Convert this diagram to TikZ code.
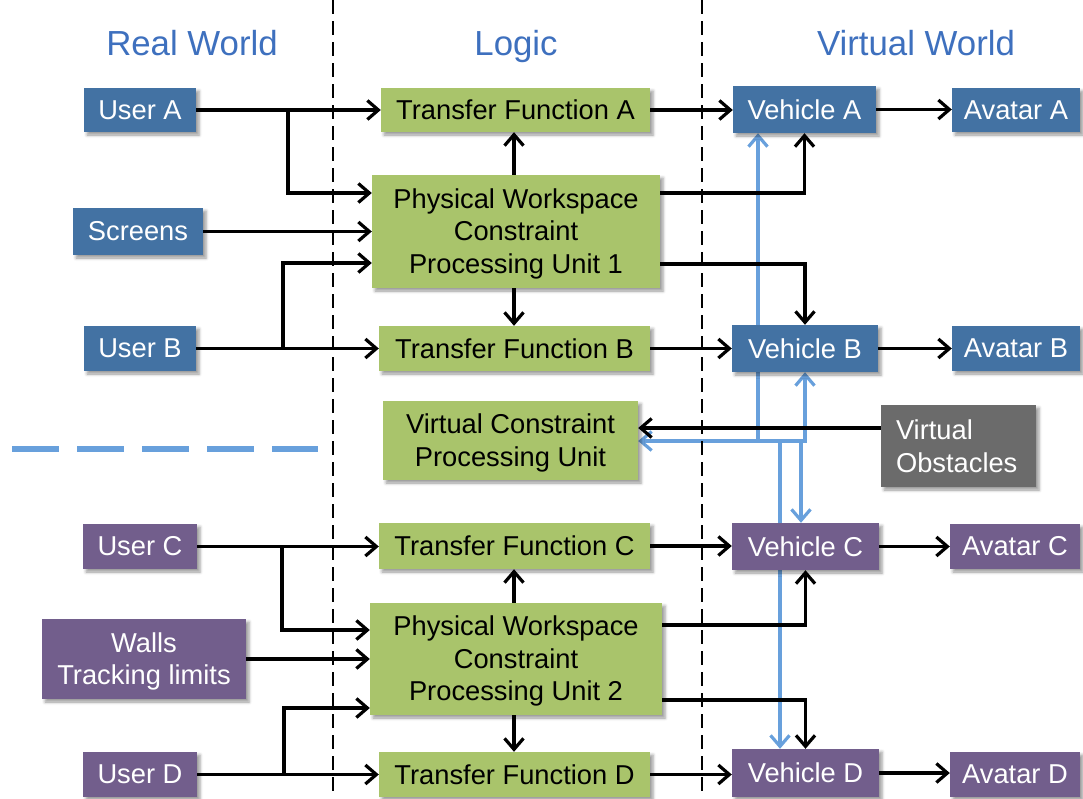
\documentclass[tikz,border=0pt]{standalone}
\usepackage{fontspec}
\setmainfont{Liberation Sans}
\usetikzlibrary{arrows.meta,shadows.blur,calc}
\definecolor{bluebox}{RGB}{67,114,163}
\definecolor{purplebox}{RGB}{114,94,140}
\definecolor{greenbox}{RGB}{169,196,107}
\definecolor{graybox}{RGB}{107,107,107}
\definecolor{hdrblue}{RGB}{62,112,190}
\definecolor{linkblue}{RGB}{104,160,220}
\newcommand\lstrut{\rule[-0.212em]{0pt}{1.117em}}
\pgfdeclarelayer{bg}
\pgfsetlayers{bg,main}
\begin{document}
\begin{tikzpicture}[x=1pt,y=-1pt,
  box/.style={draw=none, inner sep=0pt, align=center,
    font=\fontsize{27.3}{32.5}\selectfont,
    blur shadow={shadow xshift=3pt, shadow yshift=-3pt, shadow blur radius=3pt, shadow opacity=40}},
  rwb/.style={box, fill=bluebox, text=white},
  rwp/.style={box, fill=purplebox, text=white},
  lg/.style={box, fill=greenbox, text=black},
  gr/.style={box, fill=graybox, text=white},
  hdr/.style={anchor=base, text=hdrblue, font=\fontsize{34.8}{40}\selectfont},
  ar/.style={line width=3.2pt, -{Straight Barb[length=11pt,width=19pt]}},
  bl/.style={line width=3.2pt, draw=linkblue, -{Straight Barb[length=11pt,width=19pt]}},
  sep/.style={line width=2pt, dash pattern=on 14pt off 7pt},
]
\useasboundingbox (0,0) rectangle (1083,798);

% headers
\node[hdr] (hR) at (192,55) {Real World};
\node[hdr] (hL) at (516,55) {Logic};
\node[hdr] (hV) at (916,55) {Virtual World};

% separators
\coordinate (s1t) at (333,0); \coordinate (s1b) at (333,798);
\coordinate (s2t) at (702,0); \coordinate (s2b) at (702,798);
\draw[sep] (s1t) -- (s1b);
\draw[sep] (s2t) -- (s2b);
\coordinate (d1) at (12,449); \coordinate (d2) at (318,449);
\draw[line width=6pt, draw=linkblue, dash pattern=on 47pt off 18pt] (d1) -- (d2);

% real world
\node[rwb, minimum width=112, minimum height=44] (uA) at (140,110) {User A};
\node[rwb, minimum width=130, minimum height=47] (scr) at (138,231.5) {Screens};
\node[rwb, minimum width=112, minimum height=45] (uB) at (140,348.5) {User B};
\node[rwp, minimum width=114, minimum height=45] (uC) at (140,546.5) {User C};
\node[rwp, minimum width=204, minimum height=80] (walls) at (144,659) {\lstrut Walls\\\lstrut Tracking limits};
\node[rwp, minimum width=114, minimum height=45] (uD) at (140,774.5) {User D};

% logic
\node[lg, minimum width=269, minimum height=44] (tfA) at (515.5,110) {Transfer Function A};
\node[lg, minimum width=288, minimum height=113] (pw1) at (516,231.5) {\lstrut Physical Workspace\\\lstrut Constraint\\\lstrut Processing Unit 1};
\node[lg, minimum width=271, minimum height=45] (tfB) at (514.5,348.5) {Transfer Function B};
\node[lg, minimum width=255, minimum height=79] (vcpu) at (510.5,440.5) {\lstrut Virtual Constraint\\\lstrut Processing Unit};
\node[lg, minimum width=271, minimum height=46] (tfC) at (514.5,546) {Transfer Function C};
\node[lg, minimum width=292, minimum height=112] (pw2) at (516,659) {\lstrut Physical Workspace\\\lstrut Constraint\\\lstrut Processing Unit 2};
\node[lg, minimum width=271, minimum height=45] (tfD) at (514.5,774.5) {Transfer Function D};

% virtual world
\node[rwb, minimum width=143, minimum height=47] (vA) at (804.5,109.5) {Vehicle A};
\node[rwb, minimum width=128, minimum height=44] (aA) at (1016,110) {Avatar A};
\node[rwb, minimum width=146, minimum height=47] (vB) at (805,348.5) {Vehicle B};
\node[rwb, minimum width=128, minimum height=45] (aB) at (1016,348.5) {Avatar B};
\node[gr, align=left, text width=125pt, inner xsep=15pt, minimum height=82] (vo) at (958.5,446) {Virtual\\Obstacles};
\node[rwp, minimum width=147, minimum height=47] (vC) at (805.5,546.5) {Vehicle C};
\node[rwp, minimum width=130, minimum height=45] (aC) at (1015,546.5) {Avatar C};
\node[rwp, minimum width=147, minimum height=48] (vD) at (805.5,773) {Vehicle D};
\node[rwp, minimum width=130, minimum height=45] (aD) at (1015,774.5) {Avatar D};

% branch x positions
\coordinate (xa) at (288,0);
\coordinate (xb) at (283,0);
\coordinate (xc) at (282,0);
\coordinate (xd) at (284,0);
\coordinate (xm) at (514,0);

% group 1
\draw[ar] (uA.east) -- (uA.east -| tfA.west);
\draw[ar] (uA.east -| xa) |- ($(pw1.west)+(0,-38.5)$);
\draw[ar] (scr.east) -- (scr.east -| pw1.west);
\draw[ar] (uB.east) -- (uB.east -| tfB.west);
\draw[ar] (uB.east -| xb) |- ($(pw1.west)+(0,31.5)$);
\draw[ar] (pw1.north -| xm) -- (tfA.south -| xm);
\draw[ar] (pw1.south -| xm) -- (tfB.north -| xm);
\draw[ar] (tfA.east) -- (tfA.east -| vA.west);
\draw[ar] ($(pw1.east)+(0,-38.5)$) -| (vA.south);
\draw[ar] ($(pw1.east)+(0,32.5)$) -| (vB.north);
\draw[ar] (tfB.east) -- (tfB.east -| vB.west);
\draw[ar] (vA.east) -- (vA.east -| aA.west);
\draw[ar] (vB.east) -- (vB.east -| aB.west);

% group 2
\draw[ar] (uC.east) -- (uC.east -| tfC.west);
\draw[ar] (uC.east -| xc) |- ($(pw2.west)+(0,-29)$);
\draw[ar] (walls.east) -- (walls.east -| pw2.west);
\draw[ar] (uD.east) -- (uD.east -| tfD.west);
\draw[ar] (uD.east -| xd) |- ($(pw2.west)+(0,49)$);
\draw[ar] (pw2.north -| xm) -- (tfC.south -| xm);
\draw[ar] (pw2.south -| xm) -- (tfD.north -| xm);
\draw[ar] (tfC.east) -- (tfC.east -| vC.west);
\draw[ar] ($(pw2.east)+(0,-34)$) -| (vC.south);
\draw[ar] ($(pw2.east)+(0,41)$) -| (vD.north);
\draw[ar] (tfD.east) -- (tfD.east -| vD.west);
\draw[ar] (vC.east) -- (vC.east -| aC.west);
\draw[ar] (vD.east) -- (vD.east -| aD.west);

% virtual obstacles
\coordinate (vo1) at ($(vo.west)+(0,-18)$);
\draw[ar] (vo1) -- (vo1 -| vcpu.east);

% blue links (behind boxes)
\coordinate (jA) at (758,441);
\coordinate (jB) at (805,441);
\coordinate (jC) at (801,441);
\coordinate (jD) at (780,441);
\begin{pgfonlayer}{bg}
\draw[bl, {Straight Barb[length=11pt,width=19pt]}-{Straight Barb[length=11pt,width=19pt]}] (jB -| vcpu.east) -- (jB) -- (jB |- vB.south);
\draw[bl] (jA) -- (jA |- vA.south);
\draw[bl] (jC) -- (jC |- vC.north);
\draw[bl] (jD) -- (jD |- vD.north);
\end{pgfonlayer}
\end{tikzpicture}
\end{document}
